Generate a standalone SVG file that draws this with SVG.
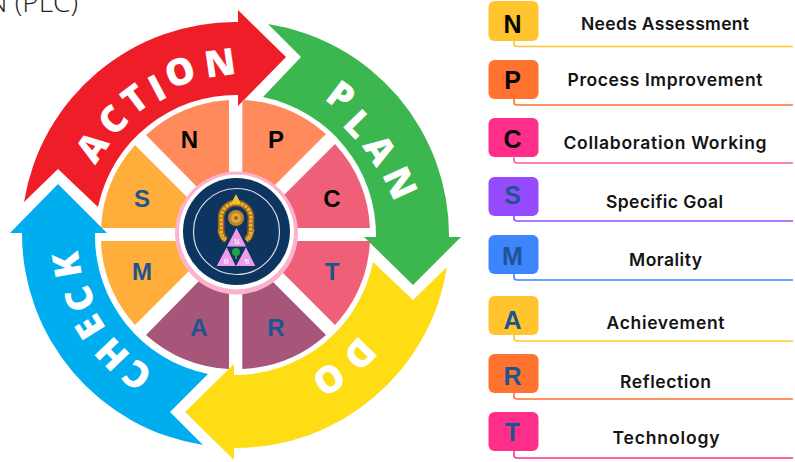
<svg xmlns="http://www.w3.org/2000/svg" width="795" height="462" viewBox="0 0 795 462">
<style>
.big{font-family:"Open Sans","Liberation Sans",sans-serif;font-weight:800;font-size:37px;fill:#fff;text-anchor:middle}
.wl{font-family:"Liberation Sans",Arial,sans-serif;font-weight:700;font-size:24px;text-anchor:middle}
.bl{font-family:"Liberation Sans",Arial,sans-serif;font-weight:700;font-size:25px;text-anchor:middle}
.lab{font-family:Inter,"Open Sans",sans-serif;font-weight:600;font-size:17.500px;fill:#141414;text-anchor:middle}
.k{fill:#050505}.b{fill:#1C5590}
.ln{fill:none;stroke-width:1.6}
.th{font-family:"Noto Sans","DejaVu Sans",sans-serif;font-size:8px;fill:#fff;text-anchor:middle}
</style>
<rect width="795" height="462" fill="#fff"/>
<text x="78" y="11.500" text-anchor="end" font-family="'Open Sans','Liberation Sans',sans-serif" font-weight="300" font-size="28" fill="#222">N (PLC)</text>

<g id="connectors">
<g id="arrow-action"><path fill="#EF1D27" d="M24 202A214 214 0 0 1 238 22V10L286 57L238 106V95A141 141 0 0 0 98 207L58 169Z"/></g>
<g id="arrow-plan"><path fill="#3CB64E" d="M268 24A214 214 0 0 1 449 237H461L413 285L364 237H376A141 141 0 0 0 263 97L301 57Z"/></g>
<g id="arrow-do"><path fill="#FFDD15" d="M447 267A214 214 0 0 1 234 448V460L185 412L234 364V375A141 141 0 0 0 373 262L413 300Z"/></g>
<g id="arrow-check"><path fill="#00AEEF" d="M203 445A214 214 0 0 1 22 233H10L58 184L107 233H95A141 141 0 0 0 208 374L170 412Z"/></g>
</g>

<g id="label-action" class="big">
<text transform="translate(92 147) rotate(-55)" y="13">A</text>
<text transform="translate(113 120) rotate(-47)" y="13">C</text>
<text transform="translate(135 99) rotate(-37)" y="13">T</text>
<text transform="translate(157 88) rotate(-28)" y="13">I</text>
<text transform="translate(180 72) rotate(-19)" y="13">O</text>
<text transform="translate(220 63) rotate(-8)" y="13">N</text>
</g>
<g id="label-plan" class="big">
<text transform="translate(341 96) rotate(37)" y="13">P</text>
<text transform="translate(358 124) rotate(46)" y="13">L</text>
<text transform="translate(380 150) rotate(57)" y="13">A</text>
<text transform="translate(400 183) rotate(65)" y="13">N</text>
</g>
<g id="label-do" class="big">
<text transform="translate(360 354) rotate(134)" y="13">D</text>
<text transform="translate(329 379) rotate(147)" y="13">O</text>
</g>
<g id="label-check" class="big">
<text transform="translate(137 375) rotate(-145)" y="13">C</text>
<text transform="translate(112 354) rotate(-134)" y="13">H</text>
<text transform="translate(90 327) rotate(-122)" y="13">E</text>
<text transform="translate(80 299) rotate(-112)" y="13">C</text>
<text transform="translate(67 265) rotate(-100)" y="13">K</text>
</g>

<g id="wedge-n"><path fill="#FF8A5C" d="M229 205V100A134.5 134.5 0 0 0 146 135L200 190Z"/><text class="wl k" x="189.500" y="148">N</text></g>
<g id="wedge-p"><path fill="#FF8A5C" d="M242.300 205V100A134.5 134.500 0 0 1 326 134L270 190Z"/><text class="wl k" x="276" y="148">P</text></g>
<g id="wedge-c"><path fill="#F05F78" d="M335 144A134.5 134.500 0 0 1 370 228H275V204Z"/><text class="wl k" x="332" y="207">C</text></g>
<g id="wedge-t"><path fill="#F05F78" d="M370 241A134.5 134.500 0 0 1 335 325L275 265V241Z"/><text class="wl b" x="332" y="280">T</text></g>
<g id="wedge-r"><path fill="#A8557A" d="M242.300 369A134.5 134.500 0 0 0 326 335L270 279H242.300Z"/><text class="wl b" x="276" y="336">R</text></g>
<g id="wedge-a"><path fill="#A8557A" d="M229 369A134.5 134.500 0 0 1 146 335L200 280H229Z"/><text class="wl b" x="199" y="336">A</text></g>
<g id="wedge-m"><path fill="#FFAD3B" d="M101 241A134.5 134.500 0 0 0 135 325L195 265V241Z"/><text class="wl b" x="142" y="280">M</text></g>
<g id="wedge-s"><path fill="#FFAD3B" d="M101 228A134.5 134.500 0 0 1 135 145L195 205V228Z"/><text class="wl b" x="142" y="207">S</text></g>

<g id="logo">
<circle cx="236.500" cy="233" r="61.500" fill="#FBB2CC"/>
<circle cx="236.500" cy="232" r="57.500" fill="#fff"/>
<circle cx="236.500" cy="231.500" r="53.500" fill="#0E3560"/>
<circle cx="236.500" cy="231.500" r="43" fill="none" stroke="#D5DDE6" stroke-width="1.200"/>
<path d="M226 240C219 236 222 226 221 218A15 15 0 0 1 251 218C250 226 253 236 246 240" fill="none" stroke="#9A651F" stroke-width="6.500"/>
<path d="M226 240C219 236 222 226 221 218A15 15 0 0 1 251 218C250 226 253 236 246 240" fill="none" stroke="#EDB52F" stroke-width="3.500" stroke-dasharray="3 1"/>
<path d="M217 229L222 240H227Z M255 229L250 240H245Z" fill="#E0A22C"/>
<path d="M236 194L231 204H241Z" fill="#F2C232"/>
<circle cx="236" cy="218" r="8" fill="#B9852A"/><circle cx="236" cy="218" r="5" fill="#E0A93A"/><circle cx="236" cy="218" r="2" fill="#9A651F"/>
<path d="M236.500 228L246 246.500H227Z M226.700 247.300L235.700 266H216.700Z M246 247.300L255.300 266H236Z" fill="#EE9BEA"/>
<circle cx="236" cy="252" r="4" fill="#1FA24A"/><rect x="235" y="254" width="2" height="5" fill="#1FA24A"/>
<text class="th" x="236.500" y="244">น</text><text class="th" x="226.500" y="264">ผ</text><text class="th" x="246" y="264">ช</text>
</g>

<g id="key-n"><rect x="488.500" y="1" width="50" height="40" rx="6" fill="#FFC42E"/><path class="ln" stroke="#FFC42E" d="M514 40V44Q514 46.500 517 46.500H793"/><text class="bl k" x="512.500" y="33">N</text><text class="lab" x="665" y="30" textLength="168">Needs Assessment</text></g>
<g id="key-p"><rect x="488.500" y="60" width="50" height="39" rx="6" fill="#FF7230"/><path class="ln" stroke="#FF7230" d="M514 98V102Q514 105 517 105H793"/><text class="bl k" x="512.500" y="89">P</text><text class="lab" x="665" y="86" textLength="195">Process Improvement</text></g>
<g id="key-c"><rect x="488.500" y="118" width="50" height="39" rx="6" fill="#FF2E8B"/><path class="ln" stroke="#FF5AA3" d="M514 156V160Q514 163 517 163H793"/><text class="bl k" x="512.500" y="148">C</text><text class="lab" x="665" y="149" textLength="203">Collaboration Working</text></g>
<g id="key-s"><rect x="488.500" y="177" width="50" height="39" rx="6" fill="#974BFF"/><path class="ln" stroke="#974BFF" d="M514 215V218Q514 221 517 221H793"/><text class="bl b" x="512.500" y="204">S</text><text class="lab" x="664.500" y="208" textLength="117">Specific Goal</text></g>
<g id="key-m"><rect x="488.500" y="235" width="50" height="39" rx="6" fill="#3D85FF"/><path class="ln" stroke="#3D85FF" d="M514 273V277Q514 280 517 280H793"/><text class="bl b" x="512.500" y="265">M</text><text class="lab" x="665.500" y="266" textLength="73">Morality</text></g>
<g id="key-a"><rect x="488.500" y="296" width="50" height="39" rx="6" fill="#FFC42E"/><path class="ln" stroke="#FFC42E" d="M514 334V338Q514 341 517 341H793"/><text class="bl b" x="512.500" y="329">A</text><text class="lab" x="665.500" y="329" textLength="118">Achievement</text></g>
<g id="key-r"><rect x="488.500" y="354" width="50" height="39" rx="6" fill="#FF7230"/><path class="ln" stroke="#FF7230" d="M514 392V396Q514 399 517 399H793"/><text class="bl b" x="512.500" y="385">R</text><text class="lab" x="665.500" y="388" textLength="91">Reflection</text></g>
<g id="key-t"><rect x="488.500" y="412" width="50" height="39" rx="6" fill="#FF2E8B"/><path class="ln" stroke="#FF2E8B" d="M514 450V455Q514 458 517 458H793"/><text class="bl b" x="512.500" y="441">T</text><text class="lab" x="666" y="444" textLength="107">Technology</text></g>
</svg>
